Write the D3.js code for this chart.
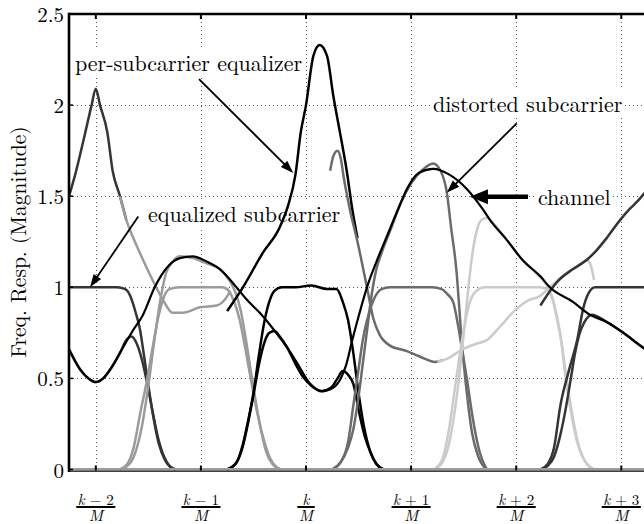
<!DOCTYPE html>
<html>
<head>
<meta charset="utf-8">
<script src="https://d3js.org/d3.v7.min.js"></script>
<style>
body { margin: 0; background: #fff; }
</style>
</head>
<body>
<div id="chart"></div>
<script>

// x is the subcarrier offset from k (in units of 1/M), y is magnitude
var channel = [[-2.255,0.66],[-2.15,0.55],[-2.07,0.5],[-2.0,0.48],[-1.93,0.5],[-1.85,0.56],[-1.77,0.64],[-1.65,0.76],[-1.55,0.85],[-1.44,1.0],[-1.32,1.11],[-1.2,1.16],[-1.08,1.17],[-0.94,1.14],[-0.82,1.10],[-0.69,1.02],[-0.56,0.93],[-0.44,0.86],[-0.31,0.77],[-0.18,0.67],[-0.09,0.59],[0.04,0.47],[0.15,0.43],[0.26,0.45],[0.33,0.5],[0.38,0.57],[0.44,0.71],[0.5,0.84],[0.58,1.0],[0.67,1.14],[0.77,1.28],[0.87,1.42],[0.96,1.54],[1.08,1.63],[1.21,1.65],[1.36,1.62],[1.53,1.54],[1.68,1.43],[1.75,1.37],[1.91,1.26],[2.06,1.15],[2.23,1.06],[2.32,1.0],[2.54,0.92],[2.7,0.85],[2.86,0.81],[3.02,0.75],[3.18,0.68],[3.254,0.65]];

// subcarrier k-2
var eqlKm2 = [[-2.255,1.5],[-2.2,1.61],[-2.1,1.85],[-2.04,2.0],[-2.0,2.09],[-1.96,2.0],[-1.89,1.85],[-1.84,1.64],[-1.77,1.5],[-1.71,1.37]];
var distKm2 = [[-2.255,0.66],[-2.15,0.55],[-2.07,0.5],[-2.0,0.48],[-1.93,0.5],[-1.85,0.56],[-1.77,0.64],[-1.71,0.71],[-1.66,0.73],[-1.61,0.69],[-1.56,0.6],[-1.51,0.47],[-1.46,0.32],[-1.41,0.18],[-1.35,0.07],[-1.3,0.02],[-1.24,0]];
var eqzKm2 = [[-2.255,1.0],[-1.8,1.0],[-1.72,0.99],[-1.67,0.95],[-1.62,0.86],[-1.58,0.77],[-1.54,0.62],[-1.5,0.46],[-1.45,0.28],[-1.4,0.14],[-1.34,0.05],[-1.25,0]];

// subcarrier k-1
var eqlKm1 = [[-1.77,1.5],[-1.71,1.37],[-1.65,1.28],[-1.55,1.15],[-1.46,1.04],[-1.36,0.93],[-1.27,0.86],[-1.17,0.86],[-1.01,0.89],[-0.85,0.9],[-0.75,0.95],[-0.72,0.98]];
var distKm1 = [[-1.77,0],[-1.68,0.03],[-1.62,0.1],[-1.56,0.24],[-1.5,0.46],[-1.44,0.72],[-1.38,0.95],[-1.33,1.08],[-1.27,1.14],[-1.2,1.17],[-1.08,1.16],[-0.94,1.13],[-0.82,1.1],[-0.72,1.03],[-0.67,0.97],[-0.62,0.87],[-0.56,0.67],[-0.5,0.45],[-0.44,0.25],[-0.38,0.1],[-0.32,0.03],[-0.24,0]];
var eqzKm1 = [[-1.77,0],[-1.7,0.03],[-1.64,0.12],[-1.58,0.3],[-1.51,0.5],[-1.45,0.7],[-1.4,0.85],[-1.35,0.95],[-1.3,0.99],[-1.2,1.0],[-1.0,1.0],[-0.8,1.0],[-0.75,0.99],[-0.69,0.93],[-0.63,0.82],[-0.57,0.64],[-0.52,0.48],[-0.46,0.3],[-0.4,0.16],[-0.34,0.06],[-0.24,0]];

// subcarrier k
var eqlK0 = [[-0.75,0.87],[-0.6,1.0],[-0.41,1.19],[-0.25,1.33],[-0.17,1.45],[-0.1,1.62],[-0.05,1.85],[0.0,2.0],[0.07,2.27],[0.13,2.33],[0.2,2.27],[0.26,2.05],[0.32,1.86],[0.39,1.63],[0.44,1.43],[0.49,1.27]];
var distK0 = [[-0.75,0],[-0.66,0.04],[-0.6,0.13],[-0.55,0.26],[-0.5,0.41],[-0.45,0.57],[-0.4,0.69],[-0.35,0.75],[-0.3,0.76],[-0.25,0.73],[-0.18,0.67],[-0.1,0.58],[-0.03,0.51],[0.05,0.46],[0.15,0.43],[0.24,0.45],[0.3,0.5],[0.35,0.54],[0.4,0.52],[0.45,0.47],[0.51,0.3],[0.56,0.18],[0.61,0.1],[0.67,0.03],[0.74,0]];
var eqzK0 = [[-0.75,0],[-0.66,0.04],[-0.6,0.14],[-0.55,0.27],[-0.5,0.42],[-0.45,0.62],[-0.4,0.8],[-0.35,0.92],[-0.3,0.98],[-0.23,1.0],[-0.1,1.0],[0.05,1.01],[0.2,0.99],[0.29,0.99],[0.35,0.92],[0.4,0.82],[0.45,0.64],[0.5,0.42],[0.55,0.24],[0.61,0.1],[0.67,0.03],[0.73,0]];

// subcarrier k+1
var eqlK1 = [[0.23,1.64],[0.26,1.72],[0.3,1.75],[0.33,1.71],[0.36,1.6],[0.42,1.42],[0.49,1.25],[0.58,1.0],[0.64,0.83],[0.7,0.74],[0.8,0.68],[0.96,0.65],[1.08,0.62],[1.23,0.59],[1.3,0.6]];
var distK1 = [[0.25,0],[0.33,0.04],[0.4,0.12],[0.45,0.22],[0.5,0.4],[0.54,0.58],[0.58,0.76],[0.62,0.94],[0.67,1.1],[0.72,1.19],[0.8,1.31],[0.9,1.46],[1.0,1.57],[1.1,1.64],[1.21,1.68],[1.28,1.64],[1.34,1.52],[1.38,1.33],[1.43,1.1],[1.48,0.72],[1.53,0.42],[1.58,0.2],[1.64,0.07],[1.72,0]];
var eqzK1 = [[0.25,0],[0.33,0.04],[0.4,0.15],[0.45,0.35],[0.5,0.55],[0.54,0.71],[0.6,0.86],[0.65,0.94],[0.72,0.99],[0.8,1.0],[1.0,1.0],[1.2,1.0],[1.29,0.99],[1.35,0.96],[1.4,0.92],[1.45,0.78],[1.49,0.64],[1.53,0.5],[1.59,0.27],[1.65,0.1],[1.72,0]];

// subcarrier k+2
var eqlK2 = [[1.25,0.59],[1.35,0.61],[1.49,0.66],[1.62,0.69],[1.72,0.71],[1.84,0.78],[2.0,0.88],[2.12,0.93],[2.22,0.95],[2.32,1.0],[2.46,1.07],[2.6,1.12],[2.67,1.15],[2.71,1.12],[2.74,1.04]];
var distK2 = [[1.22,0],[1.3,0.04],[1.36,0.14],[1.41,0.3],[1.46,0.52],[1.5,0.74],[1.54,0.97],[1.58,1.17],[1.62,1.3],[1.67,1.37],[1.72,1.38],[1.8,1.34],[1.91,1.26],[2.06,1.15],[2.2,1.07],[2.28,1.02],[2.33,0.96],[2.38,0.86],[2.42,0.74],[2.46,0.58],[2.5,0.42],[2.55,0.25],[2.6,0.12],[2.66,0.04],[2.74,0]];
var eqzK2 = [[1.22,0],[1.3,0.06],[1.36,0.22],[1.43,0.5],[1.49,0.73],[1.56,0.92],[1.62,0.98],[1.7,1.0],[2.0,1.0],[2.22,1.0],[2.29,0.99],[2.34,0.95],[2.39,0.82],[2.43,0.7],[2.47,0.5],[2.52,0.32],[2.58,0.15],[2.64,0.06],[2.73,0]];

// subcarrier k+3
var eqlK3 = [[2.23,0.9],[2.31,0.97],[2.39,1.03],[2.54,1.1],[2.67,1.15],[2.76,1.2],[2.86,1.27],[2.99,1.37],[3.08,1.43],[3.15,1.47],[3.254,1.54]];
var distK3 = [[2.23,0],[2.3,0.02],[2.36,0.07],[2.42,0.19],[2.47,0.33],[2.52,0.5],[2.56,0.64],[2.6,0.74],[2.65,0.81],[2.72,0.85],[2.86,0.81],[3.02,0.75],[3.18,0.68],[3.254,0.65]];
var eqzK3 = [[2.23,0],[2.3,0.03],[2.36,0.12],[2.42,0.35],[2.5,0.54],[2.58,0.71],[2.64,0.89],[2.69,0.97],[2.75,1.0],[3.254,1.0]];

var xTickVals = [-2, -1, 0, 1, 2, 3];
var xTickNum = [["k", " \u2212 2"], ["k", " \u2212 1"], ["k", ""], ["k", " + 1"], ["k", " + 2"], ["k", " + 3"]];
var yTickVals = [0, 0.5, 1, 1.5, 2, 2.5];
var yTickLabels = ["0", "0.5", "1", "1.5", "2", "2.5"];

var notes = [
	{text: "per-subcarrier equalizer", at: [-2.198, 2.187]},
	{text: "equalized subcarrier", at: [-1.503, 1.356]},
	{text: "distorted subcarrier", at: [1.208, 1.962]},
	{text: "channel", at: [2.207, 1.452]}
];
var arrows = [
	{from: [-1.018, 2.143], to: [-0.121, 1.627], lw: 1.8, head: [13, 4.5]},
	{from: [-1.596, 1.388], to: [-2.055, 1.0], lw: 1.8, head: [13, 4.5]},
	{from: [2.005, 1.9], to: [1.339, 1.519], lw: 1.8, head: [13, 4.5]},
	{from: [2.112, 1.497], to: [1.56, 1.497], lw: 4.5, head: [18, 7.5]}
];

var paperFont = "'Latin Modern Roman', 'Liberation Serif', serif";
var width = 644, height = 524;
var plot = {left: 69, right: 648, top: 14, bottom: 469.5};

var x = d3.scaleLinear().domain([-2.255, 3.254]).range([plot.left, plot.right]);
var y = d3.scaleLinear().domain([0, 2.5]).range([plot.bottom, plot.top]);

var svg = d3.select("#chart").append("svg")
	.attr("width", width)
	.attr("height", height)
	.attr("font-family", paperFont);

svg.append("clipPath").attr("id", "plotclip")
	.append("rect")
	.attr("x", plot.left).attr("y", plot.top)
	.attr("width", plot.right - plot.left).attr("height", plot.bottom - plot.top + 1);

// dotted grid
var grid = svg.append("g")
	.attr("stroke", "#555")
	.attr("stroke-width", 1)
	.attr("stroke-dasharray", "1,3");
xTickVals.forEach(function(v) {
	grid.append("line")
		.attr("x1", Math.round(x(v)) + 0.5).attr("x2", Math.round(x(v)) + 0.5)
		.attr("y1", plot.top).attr("y2", plot.bottom);
});
[0.5, 1, 1.5, 2].forEach(function(v) {
	grid.append("line")
		.attr("x1", plot.left).attr("x2", plot.right)
		.attr("y1", Math.round(y(v)) + 0.5).attr("y2", Math.round(y(v)) + 0.5);
});

// annotation texts (white boxes hide the grid)
var noteG = svg.append("g");
notes.forEach(function(n) {
	var t = noteG.append("text")
		.attr("x", x(n.at[0]))
		.attr("y", y(n.at[1]))
		.attr("font-family", paperFont)
		.style("font-size", "22px")
		.attr("fill", "#000")
		.text(n.text);
	var b = t.node().getBBox();
	noteG.insert("rect", "text")
		.attr("x", b.x - 1).attr("y", b.y + 2)
		.attr("width", b.width + 2).attr("height", b.height - 3)
		.attr("fill", "#fff");
});

var line = d3.line()
	.x(function(d) { return x(d[0]); })
	.y(function(d) { return y(d[1]); })
	.curve(d3.curveMonotoneX);

var shades = {km2: "#353535", km1: "#9b9b9b", k0: "#000000", k1: "#6b6b6b", k2: "#cbcbcb", k3: "#353535"};

var curves = [
	{data: eqlKm2, color: shades.km2}, {data: distKm2, color: shades.km2}, {data: eqzKm2, color: shades.km2},
	{data: eqlKm1, color: shades.km1}, {data: distKm1, color: shades.km1}, {data: eqzKm1, color: shades.km1},
	{data: eqlK0, color: shades.k0}, {data: distK0, color: shades.k0}, {data: eqzK0, color: shades.k0},
	{data: eqlK1, color: shades.k1}, {data: distK1, color: shades.k1}, {data: eqzK1, color: shades.k1},
	{data: eqlK2, color: shades.k2}, {data: distK2, color: shades.k2}, {data: eqzK2, color: shades.k2},
	{data: eqlK3, color: shades.k3}, {data: distK3, color: shades.k3}, {data: eqzK3, color: shades.k3}
];

var curveG = svg.append("g").attr("clip-path", "url(#plotclip)");
curves.forEach(function(c) {
	curveG.append("path")
		.datum(c.data)
		.attr("fill", "none")
		.attr("stroke", c.color)
		.attr("stroke-width", 2.5)
		.attr("stroke-linejoin", "round")
		.attr("d", line);
});

// the zero tails of the subcarriers run along the bottom
curveG.append("line")
	.attr("x1", plot.left).attr("x2", plot.right)
	.attr("y1", y(0) - 0.3).attr("y2", y(0) - 0.3)
	.attr("stroke", "#9b9b9b")
	.attr("stroke-width", 2.2);

curveG.append("path")
	.datum(channel)
	.attr("fill", "none")
	.attr("stroke", "#000")
	.attr("stroke-width", 2.2)
	.attr("d", line);

// frame and ticks
var axisG = svg.append("g").attr("stroke", "#000");
axisG.append("line")
	.attr("x1", plot.left).attr("x2", plot.left)
	.attr("y1", plot.top - 1.2).attr("y2", plot.bottom + 2.5)
	.attr("stroke-width", 2.6);
axisG.append("line")
	.attr("x1", plot.left).attr("x2", plot.right)
	.attr("y1", plot.top).attr("y2", plot.top)
	.attr("stroke-width", 2.6);
axisG.append("line")
	.attr("x1", plot.left).attr("x2", plot.right)
	.attr("y1", plot.bottom + 1.6).attr("y2", plot.bottom + 1.6)
	.attr("stroke-width", 1.4);
xTickVals.forEach(function(v) {
	axisG.append("line")
		.attr("x1", x(v)).attr("x2", x(v))
		.attr("y1", plot.bottom + 1).attr("y2", plot.bottom - 4)
		.attr("stroke-width", 2);
	axisG.append("line")
		.attr("x1", x(v)).attr("x2", x(v))
		.attr("y1", plot.top).attr("y2", plot.top + 5)
		.attr("stroke-width", 2);
});
yTickVals.forEach(function(v) {
	axisG.append("line")
		.attr("x1", plot.left).attr("x2", plot.left + 4)
		.attr("y1", y(v)).attr("y2", y(v))
		.attr("stroke-width", 1.5);
	axisG.append("line")
		.attr("x1", plot.right - 4).attr("x2", plot.right)
		.attr("y1", y(v)).attr("y2", y(v))
		.attr("stroke-width", 2);
});

// arrows
function drawArrow(g, a) {
	var x1 = x(a.from[0]), y1 = y(a.from[1]);
	var x2 = x(a.to[0]), y2 = y(a.to[1]);
	var ang = Math.atan2(y2 - y1, x2 - x1);
	var len = a.head[0], hw = a.head[1];
	var bx = x2 - len * Math.cos(ang), by = y2 - len * Math.sin(ang);
	g.append("line")
		.attr("x1", x1).attr("y1", y1)
		.attr("x2", x2 - 0.7 * len * Math.cos(ang)).attr("y2", y2 - 0.7 * len * Math.sin(ang))
		.attr("stroke", "#000")
		.attr("stroke-width", a.lw);
	var pts = [
		[x2, y2],
		[bx + hw * Math.sin(ang), by - hw * Math.cos(ang)],
		[bx - hw * Math.sin(ang), by + hw * Math.cos(ang)]
	];
	g.append("polygon")
		.attr("points", pts.map(function(p) { return p.join(","); }).join(" "))
		.attr("fill", "#000");
}
var arrowG = svg.append("g");
arrows.forEach(function(a) { drawArrow(arrowG, a); });

// y tick labels
svg.append("g").selectAll("text")
	.data(yTickVals)
	.enter().append("text")
	.attr("x", plot.left - 5)
	.attr("y", function(d) { return y(d) + 8; })
	.attr("text-anchor", "end")
	.attr("font-family", paperFont)
	.style("font-size", "21px")
	.text(function(d, i) { return yTickLabels[i]; });

// y label
svg.append("text")
	.attr("transform", "translate(25.5," + 242 + ") rotate(-90)")
	.attr("text-anchor", "middle")
	.attr("font-family", paperFont)
	.style("font-size", "21.5px")
	.text("Freq. Resp. (Magnitude)");

// x tick labels as fractions
xTickVals.forEach(function(v, i) {
	var g = svg.append("g").attr("transform", "translate(" + x(v) + ",0)");
	var num = g.append("text")
		.attr("x", 0).attr("y", 504.5)
		.attr("text-anchor", "middle")
		.attr("font-family", paperFont)
		.style("font-size", "15px")
		.attr("xml:space", "preserve");
	num.append("tspan").style("font-style", "italic").text(xTickNum[i][0]);
	if (xTickNum[i][1] !== "") num.append("tspan").text(xTickNum[i][1]);
	var den = g.append("text")
		.attr("x", 0).attr("y", 521)
		.attr("text-anchor", "middle")
		.attr("font-family", paperFont)
		.style("font-size", "16px")
		.style("font-style", "italic")
		.text("M");
	var w = Math.max(num.node().getComputedTextLength(), den.node().getComputedTextLength()) + 3;
	g.append("rect")
		.attr("x", -w / 2).attr("y", 506)
		.attr("width", w).attr("height", 2)
		.attr("fill", "#000");
});

</script>
</body>
</html>
